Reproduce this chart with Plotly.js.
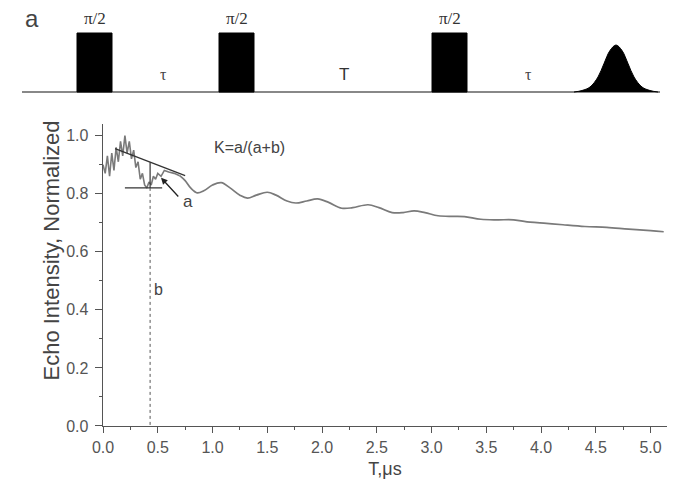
<!DOCTYPE html>
<html>
<head>
<meta charset="utf-8">
<script src="https://cdn.plot.ly/plotly-3.0.1.min.js"></script>
<style>html,body{margin:0;padding:0;background:#fff;}#chart{width:675px;height:493px;}</style>
</head>
<body>
<div id="chart"></div>
<script>
// ---- main curve: echo intensity vs T (µs) ----
const tUs = [0.00,0.02,0.04,0.06,0.08,0.10,0.12,0.14,0.16,0.18,0.20,0.22,0.24,0.26,0.28,0.30,0.32,0.34,0.36,0.38,0.40,0.42,0.44,0.46,0.48,0.50,0.53,0.56,0.60,0.65,0.70,
  0.75,0.80,0.86,0.92,1.00,1.08,1.16,1.25,1.32,1.40,1.50,1.58,1.68,1.76,1.86,1.96,2.06,2.18,2.28,2.42,2.52,2.64,2.74,2.84,2.94,3.06,3.20,3.30,3.45,3.60,3.75,3.90,4.05,4.20,4.40,4.60,4.80,5.00,5.12];
const echo = [0.90,0.87,0.93,0.86,0.94,0.88,0.96,0.91,0.98,0.93,1.00,0.94,0.98,0.92,0.95,0.89,0.91,0.85,0.87,0.83,0.82,0.84,0.83,0.86,0.85,0.87,0.86,0.88,0.875,0.87,0.862,
  0.845,0.82,0.803,0.81,0.83,0.838,0.82,0.795,0.785,0.795,0.805,0.795,0.775,0.768,0.775,0.782,0.77,0.75,0.752,0.762,0.752,0.735,0.735,0.741,0.735,0.724,0.722,0.721,0.712,0.710,0.710,0.702,0.698,0.693,0.687,0.684,0.678,0.673,0.669];
const noisyEnd = 30; // last index of the noisy (unsmoothed) early part

// construction lines for K = a/(a+b)
const tangentX = [0.11, 0.75];
const tangentY = [0.955, 0.862];
const levelX = [0.20, 0.54];
const levelY = [0.82, 0.82];
const markT = 0.43;
const markTopY = 0.908;

// ---- pulse-sequence schematic (arbitrary horizontal units) ----
const pulseStart = [57, 199, 412];
const pulseWidth = 35;
const pulseHeight = 59;
const pulseLabel = "π/2";
const baselineX = [2, 640];
const echoCenter = 596;
const echoOffsets = [-42,-34,-26,-18,-12,-6,0,6,12,18,26,34,42];
const echoHeights = [0,1.5,5,15,28.5,41.5,47,41.5,28.5,15,5,1.5,0];
const gapLabels = ["τ","T","τ"];
const gapLabelX = [143, 324, 508];

const sans = 'Liberation Sans, Arial, sans-serif';
const serif = 'Liberation Serif, DejaVu Serif, serif';

const traces = [];
// main curve: noisy early part (straight segments) and smooth later part
traces.push({x:tUs.slice(0, noisyEnd + 1), y:echo.slice(0, noisyEnd + 1), type:'scatter', mode:'lines', line:{color:'#7a7a7a', width:1.6}, xaxis:'x', yaxis:'y'});
traces.push({x:tUs.slice(noisyEnd), y:echo.slice(noisyEnd), type:'scatter', mode:'lines', line:{color:'#7a7a7a', width:1.7, shape:'spline', smoothing:1}, xaxis:'x', yaxis:'y'});
traces.push({x:tangentX, y:tangentY, type:'scatter', mode:'lines', line:{color:'#333', width:1.3}, xaxis:'x', yaxis:'y'});
traces.push({x:levelX, y:levelY, type:'scatter', mode:'lines', line:{color:'#333', width:1.3}, xaxis:'x', yaxis:'y'});
traces.push({x:[markT, markT], y:[markTopY, levelY[0]], type:'scatter', mode:'lines', line:{color:'#333', width:1.2}, xaxis:'x', yaxis:'y'});
traces.push({x:[markT, markT], y:[levelY[0], 0], type:'scatter', mode:'lines', line:{color:'#555', width:1, dash:'dot'}, xaxis:'x', yaxis:'y'});

// schematic
traces.push({x:baselineX, y:[0,0], type:'scatter', mode:'lines', line:{color:'#888', width:2.2}, xaxis:'x2', yaxis:'y2'});
pulseStart.forEach(s => {
  traces.push({x:[s, s, s+pulseWidth, s+pulseWidth, s], y:[0, pulseHeight, pulseHeight, 0, 0], type:'scatter', mode:'lines', fill:'toself', fillcolor:'#000', line:{color:'#000', width:1}, xaxis:'x2', yaxis:'y2'});
});
traces.push({x:echoOffsets.map(o => echoCenter + o), y:echoHeights, type:'scatter', mode:'lines', fill:'toself', fillcolor:'#000', line:{color:'#000', width:1, shape:'spline'}, xaxis:'x2', yaxis:'y2'});

const tickFont = {family:sans, size:16, color:'#555'};
const annotations = [];
pulseStart.forEach(s => {
  annotations.push({x:s + pulseWidth/2, y:pulseHeight + 3, xref:'x2', yref:'y2', text:pulseLabel, showarrow:false, yanchor:'bottom', font:{family:serif, size:17, color:'#333'}});
});
gapLabels.forEach((t, i) => {
  annotations.push({x:gapLabelX[i], y:18, xref:'x2', yref:'y2', text:t, showarrow:false, font:(t === 'T' ? {family:sans, size:17, color:'#333'} : {family:serif, size:16, color:'#444'})});
});
annotations.push({x:0.005, y:1.005, xref:'paper', yref:'paper', xanchor:'left', yanchor:'top', text:'a', showarrow:false, font:{family:sans, size:24, color:'#444'}});
annotations.push({x:1.34, y:0.96, xref:'x', yref:'y', text:'K=a/(a+b)', showarrow:false, font:{family:sans, size:16, color:'#444'}});
annotations.push({x:0.78, y:0.773, xref:'x', yref:'y', text:'a', showarrow:false, font:{family:sans, size:17, color:'#444'}});
annotations.push({x:0.51, y:0.47, xref:'x', yref:'y', text:'b', showarrow:false, font:{family:sans, size:16, color:'#444'}});
annotations.push({x:0.53, y:0.855, ax:0.70, ay:0.785, xref:'x', yref:'y', axref:'x', ayref:'y', text:'', showarrow:true, arrowhead:2, arrowsize:1, arrowwidth:1.3, arrowcolor:'#222'});
// y-axis title (placed as rotated text to match the reference position)
annotations.push({x:0.0263, y:0.4157, xref:'paper', yref:'paper', text:'Echo Intensity, Normalized', textangle:-90, showarrow:false, font:{family:sans, size:22, color:'#444'}});

const layout = {
  width:675, height:493,
  margin:{l:20, r:8, t:5, b:67},
  paper_bgcolor:'#fff', plot_bgcolor:'#fff',
  showlegend:false,
  xaxis:{domain:[0.1283, 1], range:[0, 5.15], anchor:'y', tickmode:'linear', tick0:0, dtick:0.5, tickformat:'.1f',
    ticks:'outside', ticklen:6, tickcolor:'#555', showline:true, linecolor:'#555', linewidth:1.4, showgrid:false, zeroline:false,
    minor:{dtick:0.25, ticks:'outside', ticklen:3, tickcolor:'#555'},
    tickfont:tickFont, title:{text:'T,μs', font:{family:sans, size:18, color:'#444'}, standoff:8}},
  yaxis:{domain:[0, 0.7173], range:[0, 1.04], anchor:'x', tickmode:'linear', tick0:0, dtick:0.2, tickformat:'.1f',
    ticks:'outside', ticklen:7, tickcolor:'#555', showline:true, linecolor:'#555', linewidth:1.4, showgrid:false, zeroline:false,
    minor:{dtick:0.1, ticks:'outside', ticklen:3, tickcolor:'#555'}, ticklabelstandoff:3,
    tickfont:tickFont},
  xaxis2:{domain:[0, 1], range:[0, 647], anchor:'y2', visible:false, fixedrange:true},
  yaxis2:{domain:[0.7743, 1], range:[-8, 87], anchor:'x2', visible:false, fixedrange:true},
  annotations:annotations
};

Plotly.newPlot('chart', traces, layout, {displayModeBar:false, staticPlot:true});
</script>
</body>
</html>
